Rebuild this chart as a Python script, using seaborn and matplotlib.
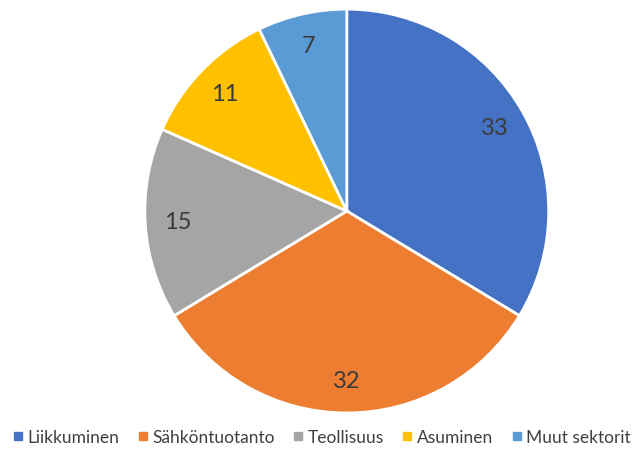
import matplotlib
matplotlib.use("Agg")
import matplotlib.pyplot as plt
from matplotlib.lines import Line2D
import seaborn as sns

categories = ["Liikkuminen", "Sähköntuotanto", "Teollisuus", "Asuminen", "Muut sektorit"]
values = [33, 32, 15, 11, 7]
colors = ["#4472C4", "#ED7D31", "#A5A5A5", "#FFC000", "#5B9BD5"]

sns.set_theme(style="white")
plt.rcParams['font.family'] = ['Lato', 'DejaVu Sans']

fig = plt.figure(figsize=(6.41, 4.56), dpi=100)
ax = fig.add_axes([0.226, 0.092, 0.630, 0.886])
total = sum(values)
wedges, texts, autotexts = ax.pie(
    values, colors=colors, startangle=90, counterclock=False,
    autopct=lambda p: f"{round(p * total / 100)}", pctdistance=0.84,
    wedgeprops=dict(edgecolor="white", linewidth=2),
    textprops=dict(color="#3a3a3a", fontsize=17))
ax.set_xlim(-1, 1)
ax.set_ylim(-1, 1)
ax.set_aspect("equal")
ax.axis("off")

handles = [Line2D([0], [0], marker="s", linestyle="", markersize=6,
                  markerfacecolor=c, markeredgecolor=c) for c in colors]
fig.legend(handles, categories, loc="center", bbox_to_anchor=(0.5, 0.04),
           ncol=5, frameon=False, fontsize=12.5, handletextpad=0.1,
           columnspacing=0.9, handlelength=0.9, labelcolor="#404040")
fig.savefig("out.png", dpi=100)
